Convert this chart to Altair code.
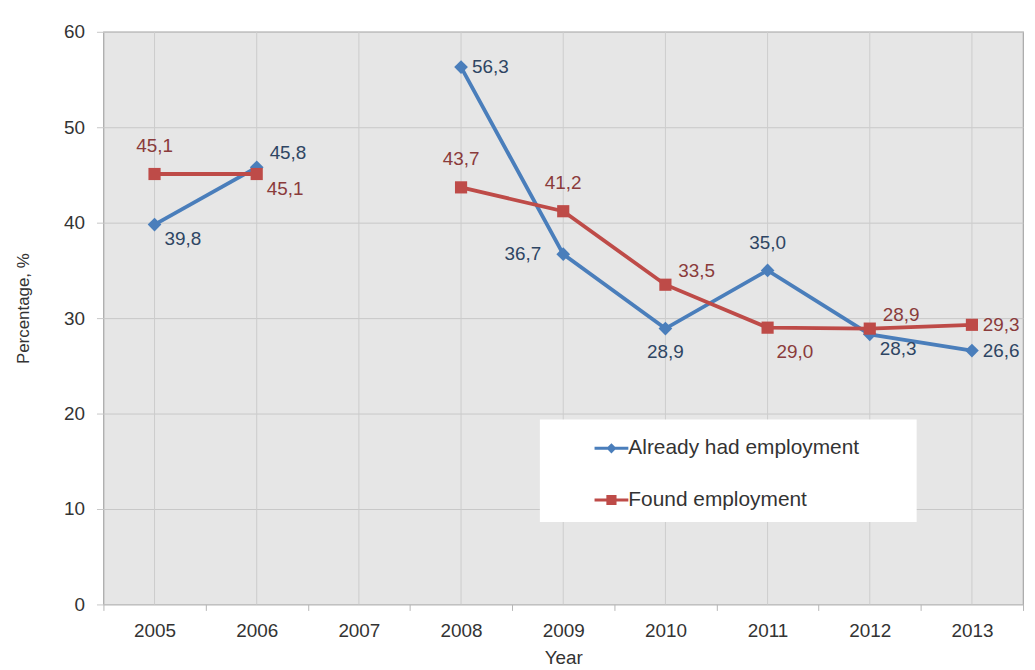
import altair as alt
import pandas as pd

# ---------------- data ----------------
years = ["2005", "2006", "2007", "2008", "2009", "2010", "2011", "2012", "2013"]
series_names = ["Already had employment", "Found employment"]
already_had = [39.8, 45.8, None, 56.3, 36.7, 28.9, 35.0, 28.3, 26.6]
found = [45.1, 45.1, None, 43.7, 41.2, 33.5, 29.0, 28.9, 29.3]

# where each value label sits relative to its marker
already_label_place = ["below-right", "above-right", None, "right", "left",
                       "below", "above", "below-right", "right"]
found_label_place = ["above", "below-right", None, "above", "above",
                     "above-right", "below-right-far", "above-right", "right"]

# ---------------- styles ----------------
line_colors = ["#4A7EBB", "#BE4B48"]
label_colors = ["#2E4563", "#8A3B3B"]
marker_shapes = ["diamond", "square"]
marker_sizes = [190, 150]
FONT = "Liberation Sans"
TXT = "#333333"

placements = {
    "right": dict(align="left", dx=11, dy=0),
    "left": dict(align="right", dx=-22, dy=0),
    "above": dict(align="center", dx=0, dy=-28),
    "below": dict(align="center", dx=0, dy=24),
    "below-right": dict(align="left", dx=10, dy=15),
    "below-right-far": dict(align="left", dx=9, dy=25),
    "above-right": dict(align="left", dx=13, dy=-14),
}

rows = []
for name, vals, places in [(series_names[0], already_had, already_label_place),
                           (series_names[1], found, found_label_place)]:
    for yr, v, p in zip(years, vals, places):
        rows.append({"year": yr, "series": name, "value": v, "place": p})
df = pd.DataFrame(rows)
df["value"] = pd.to_numeric(df["value"])
df["seg"] = df.groupby("series")["value"].transform(lambda c: c.isna().cumsum())
df["label"] = df["value"].map(lambda v: f"{v:.1f}".replace(".", ",") if pd.notna(v) else "")
plot_df = df.dropna(subset=["value"]).reset_index(drop=True)

# ---------------- encodings ----------------
x_scale = alt.Scale(type="band", domain=years, paddingInner=0, paddingOuter=0)
x_axis = alt.Axis(title="Year", labelAngle=0, tickBand="extent", grid=False, domain=False,
                  tickSize=6, tickColor="#B5B5B5", labelPadding=11, labelFontSize=19,
                  labelColor=TXT, labelFont=FONT, titleFont=FONT, titleFontSize=19,
                  titleFontWeight="normal", titleColor=TXT, titlePadding=8)
y_axis = alt.Axis(title="Percentage, %", values=list(range(0, 61, 10)), grid=True,
                  gridColor="#C8C8C8", domain=False, tickSize=7, tickColor="#C8C8C8",
                  labelPadding=12, labelFontSize=19, labelColor=TXT, labelFont=FONT,
                  titleFont=FONT, titleFontSize=17, titleFontWeight="normal",
                  titleColor=TXT, titlePadding=31, titleY=278)

x_enc = alt.X("year:O", scale=x_scale, axis=x_axis)
y_enc = alt.Y("value:Q", scale=alt.Scale(domain=[0, 60], nice=False), axis=y_axis)

# legend symbols: a short line with the marker on it
diamond_sym = "M-1,-0.09H1V0.09H-1Z M0,-0.3L0.3,0L0,0.3L-0.3,0Z"
square_sym = "M-1,-0.09H1V0.09H-1Z M-0.3,-0.3H0.3V0.3H-0.3Z"

# an invisible title on the right only widens the white legend box
legend = alt.Legend(
    title="MMM", titleOrient="right", titleOpacity=0, titleFontSize=17, titlePadding=3,
    orient="none", legendX=439, legendY=390,
    fillColor="white", padding=12, symbolOffset=43, labelOffset=0,
    symbolSize=1156, symbolStrokeWidth=0, symbolOpacity=1, rowPadding=25,
    labelFont=FONT, labelFontSize=21, labelColor=TXT, labelLimit=600,
)
color_scale = alt.Scale(domain=series_names, range=line_colors)

base = alt.Chart(plot_df)

grid_rules = alt.Chart(pd.DataFrame({"year": years})).mark_rule(
    color="#CDCDCD", strokeWidth=1).encode(x=x_enc)

# invisible layer that only carries the legend (first, so its legend settings win)
legend_layer = base.mark_point(filled=True, opacity=0).encode(
    x=x_enc, y=y_enc,
    color=alt.Color("series:N", scale=color_scale, legend=legend),
    shape=alt.Shape("series:N", scale=alt.Scale(domain=series_names,
                                                range=[diamond_sym, square_sym]),
                    legend=legend),
)

lines = base.mark_line(strokeWidth=3.8).encode(
    x=x_enc, y=y_enc,
    color=alt.Color("series:N", scale=color_scale),
    detail="seg:N")

point_layers = []
for name, shp, sz in zip(series_names, marker_shapes, marker_sizes):
    point_layers.append(
        base.transform_filter(alt.datum.series == name).mark_point(
            filled=True, opacity=1, shape=shp, size=sz
        ).encode(x=x_enc, y=y_enc,
                 color=alt.Color("series:N", scale=color_scale))
    )

text_layers = []
for name, p in placements.items():
    text_layers.append(
        base.transform_filter(alt.datum.place == name).mark_text(
            font=FONT, fontSize=19, baseline="middle", **p
        ).encode(
            x=x_enc, y=y_enc, text="label:N",
            fill=alt.Fill("series:N", scale=alt.Scale(domain=series_names, range=label_colors),
                          legend=None),
        )
    )

chart = alt.layer(grid_rules, legend_layer, lines, *point_layers, *text_layers).properties(
    width=925, height=576,
    autosize=alt.AutoSizeParams(type="none"),
    padding={"left": 96, "top": 22, "right": 4, "bottom": 62},
    background="white",
).configure_view(fill="#E6E6E6", stroke="#A6A6A6", strokeWidth=1.2)

chart.save("out.html", embed_options={"renderer": "svg", "actions": False})
